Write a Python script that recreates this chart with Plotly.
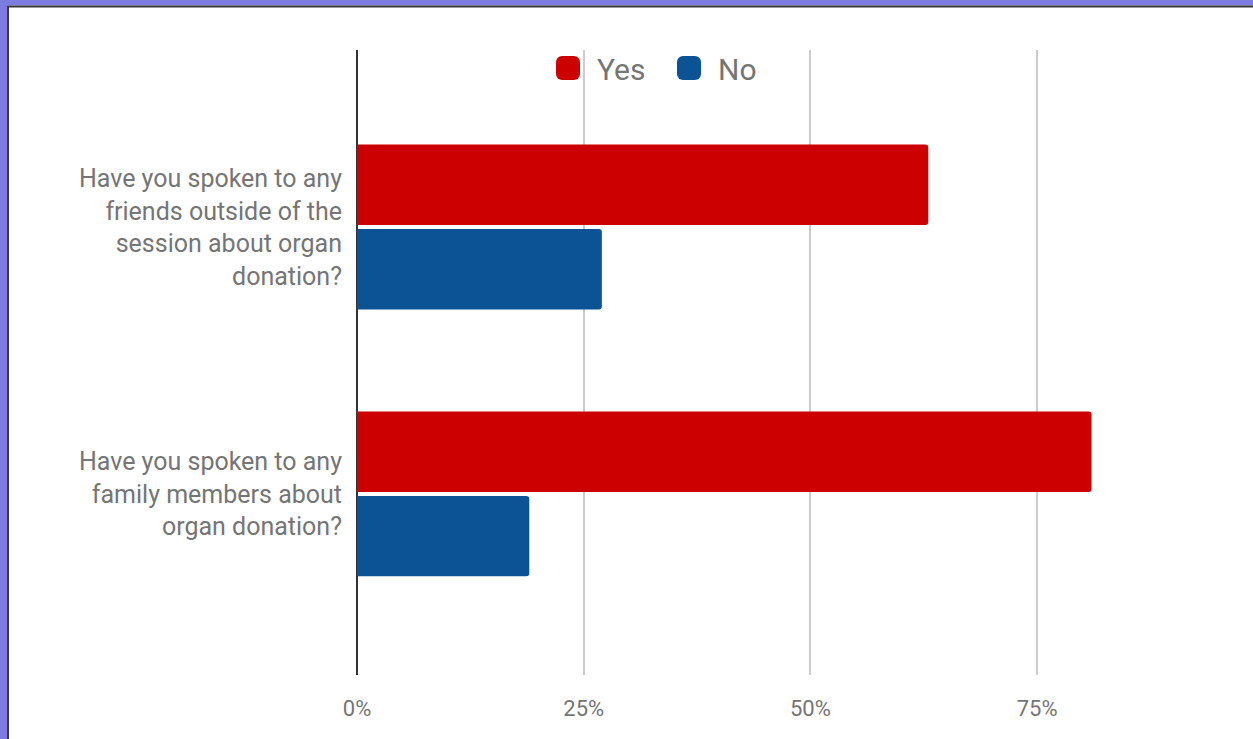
import plotly.graph_objects as go

# ---- data ----
categories = [
    "Have you spoken to any<br>family members about<br>organ donation?",
    "Have you spoken to any<br>friends outside of the<br>session about organ<br>donation?",
]
yes_values = [0.81, 0.63]
no_values = [0.19, 0.27]
series_names = ["Yes", "No"]
tick_values = [0, 0.25, 0.5, 0.75]
tick_labels = ["0%", "25%", "50%", "75%"]

# ---- layout constants ----
W, H = 1253, 739
ML, MR, MT, MB = 357, 0, 50, 64
PW, PH = W - ML - MR, H - MT - MB
TEXT = "#757575"
FONT = "Roboto"


def px_x(p):
    return (p - ML) / PW


def px_y(p):
    return (H - MB - p) / PH


fig = go.Figure()
fig.add_trace(go.Bar(
    y=categories, x=no_values, name=series_names[1], orientation="h",
    marker=dict(color="#0b5394", cornerradius=3, line=dict(width=0)),
    hoverinfo="x+name",
))
fig.add_trace(go.Bar(
    y=categories, x=yes_values, name=series_names[0], orientation="h",
    marker=dict(color="#cc0000", cornerradius=3, line=dict(width=0)),
    hoverinfo="x+name",
))

purple = "#7b7be0"
dark = "#3a3a3a"
shapes = [
    dict(type="rect", xref="paper", yref="paper", layer="above",
         x0=px_x(0), x1=px_x(7), y0=px_y(H), y1=px_y(0),
         fillcolor=purple, line=dict(width=0)),
    dict(type="rect", xref="paper", yref="paper", layer="above",
         x0=px_x(0), x1=px_x(W), y0=px_y(5.5), y1=px_y(0),
         fillcolor=purple, line=dict(width=0)),
    dict(type="line", xref="paper", yref="paper", layer="above",
         x0=px_x(8), x1=px_x(8), y0=px_y(H), y1=px_y(6),
         line=dict(color=dark, width=2)),
    dict(type="line", xref="paper", yref="paper", layer="above",
         x0=px_x(7), x1=px_x(W), y0=px_y(6.5), y1=px_y(6.5),
         line=dict(color=dark, width=2)),
]

fig.update_layout(
    width=W, height=H,
    margin=dict(l=ML, r=MR, t=MT, b=MB, pad=0),
    paper_bgcolor="white", plot_bgcolor="white",
    barmode="group", bargap=0.367, bargroupgap=0.05,
    font=dict(family=FONT, color=TEXT),
    showlegend=True,
    legend=dict(
        orientation="h", x=px_x(660), y=px_y(68), xanchor="center", yanchor="middle",
        font=dict(size=30, color=TEXT, family=FONT), bgcolor="rgba(0,0,0,0)",
        traceorder="reversed", itemwidth=48, entrywidth=58,
    ),
    xaxis=dict(
        range=[0, PW / (226.7 / 0.25)], tickvals=tick_values, ticktext=tick_labels,
        showgrid=True, gridcolor="#cccccc", gridwidth=1.5,
        zeroline=True, zerolinecolor="#333333", zerolinewidth=1.5,
        showline=False, ticks="", ticklabelstandoff=18,
        tickfont=dict(size=22, color=TEXT, family=FONT), fixedrange=True,
    ),
    yaxis=dict(
        range=[-0.678, 1.663], showgrid=False, zeroline=False, showline=False,
        ticks="", ticklabelstandoff=14,
        tickfont=dict(size=25, color=TEXT, family=FONT), fixedrange=True,
    ),
    shapes=shapes,
)

post = """
document.body.style.margin = '0';
document.body.style.overflow = 'hidden';
var gd = document.getElementById('{plot_id}');
gd.querySelectorAll('.legend [clip-path]').forEach(function (e) {
    e.removeAttribute('clip-path');
});
gd.querySelectorAll('.legendpoints path').forEach(function (p) {
    var t = p.getAttribute('transform') || '';
    p.setAttribute('transform', t + ' scale(2)');
});
"""

fig.write_html("out.html", post_script=post, config={"displayModeBar": False})
